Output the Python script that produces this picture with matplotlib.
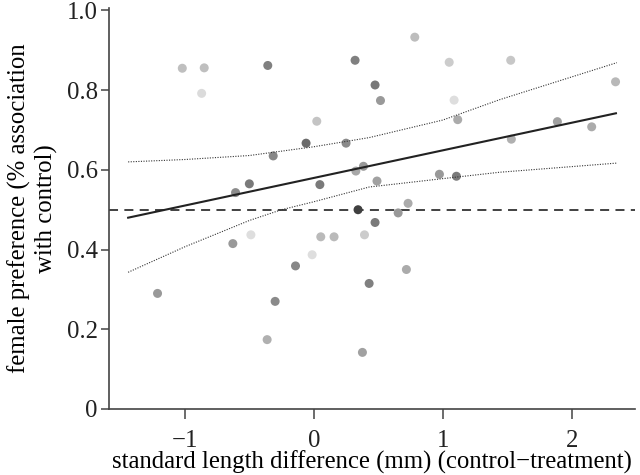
import numpy as np
import matplotlib
matplotlib.use("Agg")
import matplotlib.pyplot as plt

# scatter points: (length difference, preference, grey level)
length_diff = [
    -1.02, -0.85, -0.87, -0.357, 0.32, 0.023, -0.06, 0.25, -0.315, 0.326,
    0.385, -0.50, -0.607, 0.047, 0.343, 0.783, 1.05, 1.527, 2.34, 0.475,
    0.517, 1.088, 1.116, 1.889, 2.155, 1.532, 0.49, 0.974, 1.106, 0.731,
    0.654, 0.475, -0.488, -0.628, 0.054, 0.157, 0.393, -0.013, -0.142, -1.212,
    -0.30, 0.429, -0.362, 0.377, 0.718,
]
preference = [
    0.855, 0.856, 0.792, 0.862, 0.875, 0.722, 0.667, 0.667, 0.635, 0.597,
    0.609, 0.565, 0.543, 0.563, 0.500, 0.933, 0.870, 0.875, 0.821, 0.813,
    0.774, 0.775, 0.726, 0.721, 0.708, 0.677, 0.572, 0.589, 0.584, 0.516,
    0.492, 0.468, 0.437, 0.415, 0.432, 0.432, 0.437, 0.387, 0.359, 0.290,
    0.270, 0.315, 0.174, 0.142, 0.350,
]
grey = [
    0.75, 0.75, 0.86, 0.50, 0.50, 0.77, 0.42, 0.54, 0.53, 0.66,
    0.60, 0.48, 0.55, 0.48, 0.25, 0.74, 0.80, 0.78, 0.72, 0.47,
    0.60, 0.87, 0.67, 0.63, 0.67, 0.69, 0.63, 0.60, 0.48, 0.67,
    0.60, 0.48, 0.87, 0.60, 0.73, 0.73, 0.80, 0.87, 0.53, 0.60,
    0.54, 0.50, 0.69, 0.63, 0.67,
]

# fitted line and 95% band
fit_x = [-1.44, 2.343]
fit_y = [0.480, 0.742]
upper_x = [-1.44, -1.0, -0.5, 0.0, 0.43, 1.0, 1.44, 2.35]
upper_y = [0.620, 0.626, 0.636, 0.658, 0.681, 0.725, 0.776, 0.869]
lower_x = [-1.44, -1.0, -0.5, -0.25, 0.0, 0.43, 1.0, 1.44, 2.35]
lower_y = [0.343, 0.407, 0.473, 0.500, 0.520, 0.557, 0.578, 0.594, 0.617]
chance_level = 0.5

plt.rcParams["font.family"] = ["Liberation Serif", "DejaVu Serif"]
plt.rcParams["font.size"] = 17.8

fig = plt.figure(figsize=(6.4, 4.75), dpi=100)
ax = fig.add_axes([0.170, 0.139, 0.822, 0.844])

colors = [str(g) for g in grey]
ax.scatter(length_diff, preference, s=42, c=colors, edgecolors="none", zorder=3)

ax.axhline(chance_level, color="#333333", lw=1.3, ls=(0, (5, 3.5)), zorder=2)
ax.plot(fit_x, fit_y, color="#222222", lw=1.5, zorder=4)
ax.plot(upper_x, upper_y, color="#333333", lw=0.8, ls=(0, (1, 1.3)), zorder=4)
ax.plot(lower_x, lower_y, color="#333333", lw=0.8, ls=(0, (1, 1.3)), zorder=4)

ax.set_xlim(-1.59, 2.49)
ax.set_ylim(0, 1.006)
ax.set_xticks([-1, 0, 1, 2])
ax.set_xticklabels(["\u22121", "0", "1", "2"])
ax.set_yticks([0, 0.2, 0.4, 0.6, 0.8, 1.0])
ax.set_yticklabels(["0", "0.2", "0.4", "0.6", "0.8", "1.0"])

for side in ["top", "right"]:
    ax.spines[side].set_visible(False)
for side in ["left", "bottom"]:
    ax.spines[side].set_color("#444444")
    ax.spines[side].set_linewidth(1.2)
ax.tick_params(direction="out", length=6, width=1.1, color="#444444", pad=2,
               labelcolor="#222222")
ax.tick_params(axis="x", length=7, pad=8)

ax.set_xlabel("standard length difference (mm) (control\u2212treatment)", labelpad=-1)
ax.set_ylabel("female preference (% association\nwith control)", labelpad=6,
              linespacing=1.25)

fig.savefig("out.png", dpi=100)
